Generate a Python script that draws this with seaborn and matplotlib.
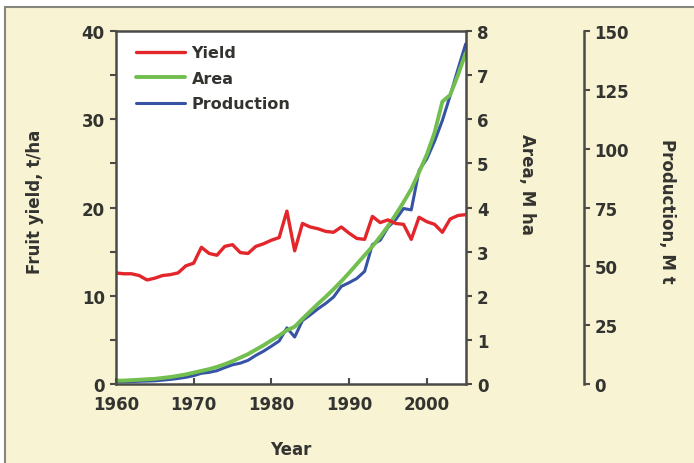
import matplotlib.pyplot as plt
import matplotlib.patches as mpatches
from matplotlib.ticker import MultipleLocator
import pandas as pd
import seaborn as sns

sns.set_style('ticks')
plt.rcParams['font.family'] = ['DejaVu Sans']
plt.rcParams['font.weight'] = 'bold'
plt.rcParams['axes.labelweight'] = 'bold'

# data, 1960-2005
years = list(range(1960, 2006))
fruit_yield = [12.6, 12.5, 12.5, 12.3, 11.8, 12.0, 12.3, 12.4, 12.6, 13.4,
               13.7, 15.5, 14.8, 14.6, 15.6, 15.8, 14.9, 14.8, 15.6, 15.9,
               16.3, 16.6, 19.6, 15.1, 18.2, 17.8, 17.6, 17.3, 17.2, 17.8,
               17.1, 16.5, 16.4, 19.0, 18.3, 18.6, 18.2, 18.1, 16.4, 18.9,
               18.4, 18.1, 17.2, 18.7, 19.1, 19.2]
area = [0.08, 0.08, 0.09, 0.10, 0.11, 0.12, 0.14, 0.16, 0.19, 0.22,
        0.26, 0.30, 0.34, 0.39, 0.45, 0.52, 0.60, 0.68, 0.78, 0.88,
        0.99, 1.10, 1.22, 1.30, 1.48, 1.65, 1.82, 1.98, 2.15, 2.33,
        2.52, 2.72, 2.92, 3.12, 3.34, 3.58, 3.84, 4.12, 4.42, 4.80,
        5.20, 5.70, 6.40, 6.55, 7.00, 7.50]
production = [1.0, 1.0, 1.1, 1.2, 1.3, 1.4, 1.7, 2.0, 2.4, 2.9,
              3.6, 4.6, 5.0, 5.7, 7.0, 8.2, 8.9, 10.1, 12.2, 14.0,
              16.1, 18.3, 23.9, 20.0, 27.0, 29.4, 32.0, 34.3, 37.0, 41.5,
              43.1, 44.9, 47.9, 59.3, 61.1, 66.6, 69.9, 74.6, 74.0, 90.7,
              95.7, 103.2, 112.0, 122.5, 133.7, 144.5]

df = pd.DataFrame({'Year': years, 'Yield': fruit_yield, 'Area': area, 'Production': production})

c_red = '#e3262c'
c_green = '#72bf4f'
c_blue = '#3653a6'
c_axis = '#4a4a46'
c_text = '#333330'

fig = plt.figure(figsize=(6.94, 4.64), dpi=100)
fig.patch.set_facecolor('white')
fig.patches.append(mpatches.Rectangle((5 / 694, -0.01), 1.0, 1.01 - 8 / 464,
                                      transform=fig.transFigure, facecolor='#f8f3d3',
                                      edgecolor='#85857c', linewidth=1.5, zorder=0))

ax = fig.add_axes([0.167, 0.170, 0.504, 0.761])
ax2 = ax.twinx()
ax3 = ax.twinx()

# drawing order: production at the bottom, yield on top
ax3.set_zorder(1)
ax2.set_zorder(2)
ax.set_zorder(3)
ax.patch.set_visible(False)
ax3.patch.set_visible(True)
ax3.patch.set_facecolor('white')

sns.lineplot(data=df, x='Year', y='Production', ax=ax3, color=c_blue, linewidth=2.2, legend=False)
sns.lineplot(data=df, x='Year', y='Area', ax=ax2, color=c_green, linewidth=2.8, legend=False)
sns.lineplot(data=df, x='Year', y='Yield', ax=ax, color=c_red, linewidth=2.4, legend=False)

ax.set_xlim(1960, 2005)
ax.set_ylim(0, 40)
ax2.set_ylim(0, 8)
ax3.set_ylim(0, 150)

# spines
for s in ['left', 'top', 'bottom']:
    ax.spines[s].set_color(c_axis)
    ax.spines[s].set_linewidth(1.8)
ax.spines['right'].set_visible(False)
for a in (ax2, ax3):
    for s in ['left', 'top', 'bottom']:
        a.spines[s].set_visible(False)
    a.spines['right'].set_color(c_axis)
    a.spines['right'].set_linewidth(1.8)
ax3.spines['right'].set_position(('axes', 1.337))

# ticks
ax.set_xticks([1960, 1970, 1980, 1990, 2000])
ax.set_yticks([0, 10, 20, 30, 40])
ax.yaxis.set_minor_locator(MultipleLocator(5))
ax.tick_params(axis='x', direction='in', length=4, width=1.5, color=c_axis,
               labelsize=12, labelcolor=c_text, pad=8)
ax.tick_params(axis='y', which='both', direction='out', length=4, width=1.5,
               color=c_axis, labelsize=12, labelcolor=c_text, pad=4)
ax2.set_yticks(range(0, 9))
ax2.tick_params(axis='y', direction='out', length=4, width=1.5, color=c_axis,
                labelsize=12, labelcolor=c_text, pad=4)
ax3.set_yticks([0, 25, 50, 75, 100, 125, 150])
ax3.tick_params(axis='y', direction='out', length=4, width=1.5, color=c_axis,
                labelsize=12, labelcolor=c_text, pad=4)

# labels
ax.set_xlabel('Year', fontsize=12, color=c_text, va='center')
ax.xaxis.set_label_coords(0.5, -0.183)
ax.set_ylabel('Fruit yield, t/ha', fontsize=12, color=c_text, va='center')
ax.yaxis.set_label_coords(-0.231, 0.52)
ax2.set_ylabel('Area, M ha', fontsize=12, color=c_text, rotation=270, va='center')
ax2.yaxis.set_label_coords(1.174, 0.567)
ax3.set_ylabel('Production, M t', fontsize=12, color=c_text, rotation=270, va='center')
ax3.yaxis.set_label_coords(1.577, 0.493)

# legend
handles = [ax.lines[0], ax2.lines[0], ax3.lines[0]]
leg = ax.legend(handles, ['Yield', 'Area', 'Production'], loc='upper left',
                bbox_to_anchor=(0.015, 1.0), frameon=False, fontsize=11.5,
                handlelength=3.1, handletextpad=0.4, labelspacing=0.65)
for t in leg.get_texts():
    t.set_color(c_text)

plt.savefig('out.png', dpi=100, facecolor=fig.get_facecolor())
